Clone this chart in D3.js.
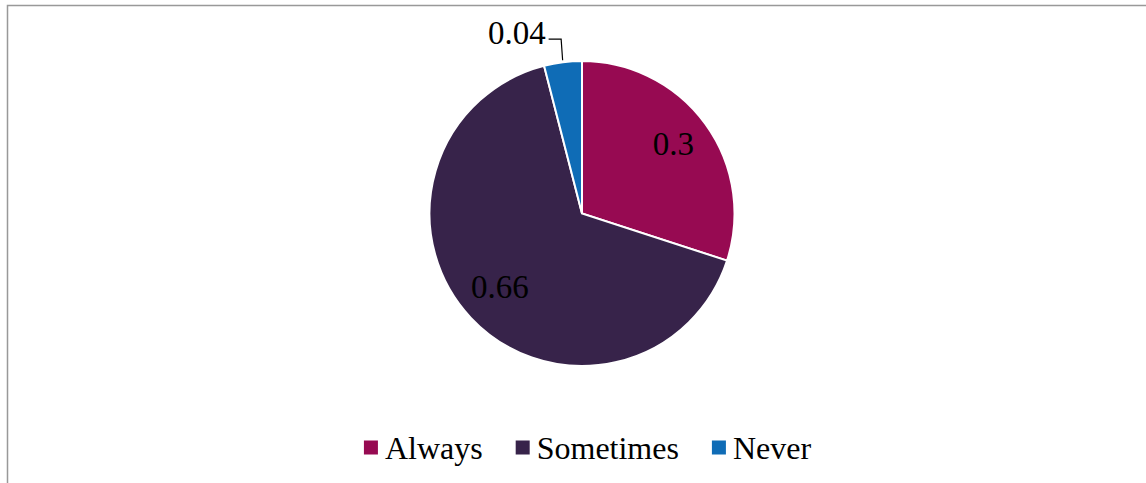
<!DOCTYPE html>
<html>
<head>
<meta charset="utf-8">
<script src="https://cdn.jsdelivr.net/npm/d3@7"></script>
<style>
  body { margin: 0; background: #fff; }
  text { font-family: "Liberation Serif", "Times New Roman", serif; }
</style>
</head>
<body>
<script>
const CATEGORIES = ['Always', 'Sometimes', 'Never'];
const VALUES = [0.3, 0.66, 0.04];
const LABELS = ['0.3', '0.66', '0.04'];
const COLORS = ['#970a52', '#37234a', '#0f6cb6'];

function plot()
{
    const pxX = 1146, pxY = 483;
    const cx = 582, cy = 213.5, radius = 152.5;
    const labelSize = 33, legendSize = 32;

    const svg = d3.select('body')
        .append('svg')
        .attr('width', pxX)
        .attr('height', pxY);

    // chart area frame (right and bottom edges fall outside the picture)
    svg.append('rect')
        .attr('x', 7.5)
        .attr('y', 5.5)
        .attr('width', pxX + 20)
        .attr('height', pxY + 20)
        .attr('fill', 'none')
        .attr('stroke', '#999')
        .attr('stroke-width', 1.5);

    const data = CATEGORIES.map((c, i) => ({ cat: c, value: VALUES[i], label: LABELS[i], color: COLORS[i] }));

    const pie = d3.pie()
        .value(d => d.value)
        .sort(null);
    const arcs = pie(data);

    const arc = d3.arc().innerRadius(0).outerRadius(radius);
    const labelArc = d3.arc().innerRadius(radius * 0.74).outerRadius(radius * 0.74);

    const g = svg.append('g').attr('transform', `translate(${cx},${cy})`);

    g.selectAll('path.slice')
        .data(arcs).enter().append('path')
        .attr('class', 'slice')
        .attr('d', arc)
        .attr('fill', d => d.data.color)
        .attr('stroke', '#fff')
        .attr('stroke-width', 2);

    // labels inside the big slices
    const inside = arcs.filter(d => d.data.value >= 0.1);
    g.selectAll('text.inlabel')
        .data(inside).enter().append('text')
        .attr('class', 'inlabel')
        .attr('x', d => labelArc.centroid(d)[0])
        .attr('y', d => labelArc.centroid(d)[1])
        .attr('dy', '0.23em')
        .attr('text-anchor', 'middle')
        .attr('font-size', labelSize)
        .attr('fill', '#000')
        .text(d => d.data.label);

    // small slice label outside, with an elbow leader line
    const outside = arcs.filter(d => d.data.value < 0.1);
    outside.forEach(d => {
        const mid = (d.startAngle + d.endAngle) / 2;
        const ex = Math.sin(mid) * (radius + 2);
        const ey = -Math.cos(mid) * (radius + 2);
        const elbowY = ey - 21;
        const endX = ex - 14;
        g.append('path')
            .attr('d', d3.line()([[ex, ey], [ex - 1.5, elbowY], [endX, elbowY]]))
            .attr('fill', 'none')
            .attr('stroke', '#000')
            .attr('stroke-width', 1.2);
        g.append('text')
            .attr('x', endX - 3)
            .attr('y', elbowY - 6)
            .attr('dy', '0.33em')
            .attr('text-anchor', 'end')
            .attr('font-size', labelSize)
            .attr('fill', '#000')
            .text(d.data.label);
    });

    // legend
    const sw = 14, swGap = 7, itemGap = 33;
    const legend = svg.append('g');
    const items = legend.selectAll('g.item')
        .data(data).enter().append('g')
        .attr('class', 'item');
    items.append('rect')
        .attr('width', sw)
        .attr('height', sw)
        .attr('fill', d => d.color);
    items.append('text')
        .attr('x', sw + swGap)
        .attr('y', sw / 2)
        .attr('dy', '0.36em')
        .attr('font-size', legendSize)
        .attr('fill', '#000')
        .text(d => d.cat);

    let x = 0;
    const widths = [];
    items.each(function () {
        const w = sw + swGap + d3.select(this).select('text').node().getComputedTextLength();
        widths.push(w);
    });
    const total = d3.sum(widths) + itemGap * (widths.length - 1);
    const startX = 587.5 - total / 2;
    items.attr('transform', (d, i) => {
        const t = `translate(${startX + x},${440.5})`;
        x += widths[i] + itemGap;
        return t;
    });
}

plot();
</script>
</body>
</html>
